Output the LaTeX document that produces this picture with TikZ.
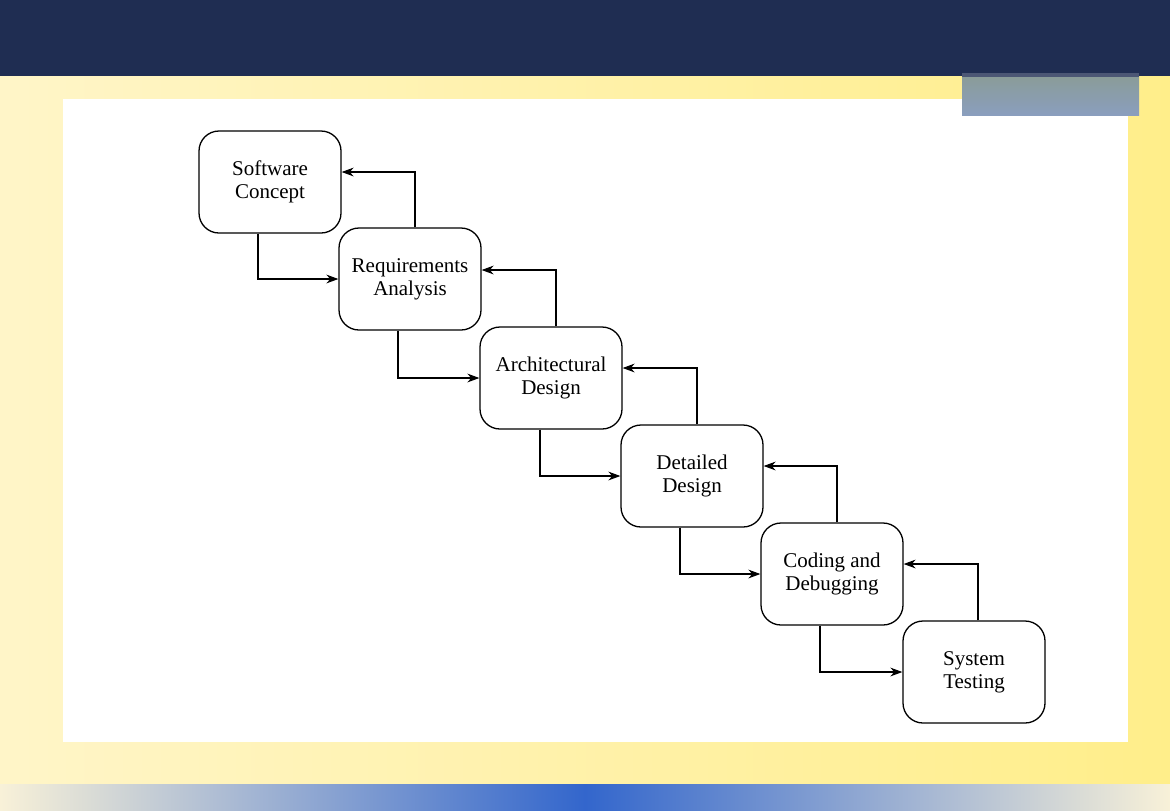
\documentclass[tikz,border=0pt]{standalone}
\usepackage{fontspec}
\setmainfont{Liberation Serif}
\usepackage{xcolor}
\usetikzlibrary{arrows.meta}

\definecolor{banner}{HTML}{1F2D52}
\definecolor{paleyellow}{HTML}{FFF5C8}
\definecolor{deepyellow}{HTML}{FFEE8A}
\definecolor{stripbeige}{HTML}{F8F1D8}
\definecolor{stripblue}{HTML}{3366CC}
\definecolor{tabtop}{HTML}{8A9C98}
\definecolor{tabbottom}{HTML}{8A9EBE}

\begin{document}
\begin{tikzpicture}[x=0.5pt,y=-0.5pt,>={Stealth[length=6pt,width=4.4pt]},
  stage/.style={draw,line width=0.65pt,rounded corners=10pt,minimum width=71pt,
    minimum height=51pt,inner sep=0pt,align=center,
    font=\fontsize{10.5}{11.5}\selectfont},
  flow/.style={->,line width=0.55pt}]
  \useasboundingbox (0,0) rectangle (1170,810);
  % slide background
  \shade[left color=paleyellow,right color=deepyellow] (0,76) rectangle (1170,784);
  \fill[banner] (0,0) rectangle (1170,76);
  \shade[left color=stripbeige,right color=stripbeige,middle color=stripblue] (0,784) rectangle (1170,810);
  \fill[white] (63,99) rectangle (1128,742);
  \shade[top color=tabtop,bottom color=tabbottom] (962,76) rectangle (1139,115);
  \fill[banner!80] (962,73) rectangle (1139,77);
  % stages
  \node[stage] (sc) at (270,182) {Software\\Concept};
  \node[stage] (ra) at (410,279) {Requirements\\Analysis};
  \node[stage] (ad) at (551,378) {Architectural\\Design};
  \node[stage] (dd) at (692,476) {Detailed\\Design};
  \node[stage] (cd) at (832,574) {Coding and\\Debugging};
  \node[stage] (st) at (974,672) {System\\Testing};
  % forward flow
  \draw[flow] ([xshift=-6pt]sc.south) |- (ra.west);
  \draw[flow] ([xshift=-6pt]ra.south) |- (ad.west);
  \draw[flow] ([xshift=-5.5pt]ad.south) |- (dd.west);
  \draw[flow] ([xshift=-6pt]dd.south) |- (cd.west);
  \draw[flow] ([xshift=-6pt]cd.south) |- (st.west);
  % feedback
  \draw[flow] ([xshift=2.5pt]ra.north) |- ([yshift=5pt]sc.east);
  \draw[flow] ([xshift=2.5pt]ad.north) |- ([yshift=4.5pt]ra.east);
  \draw[flow] ([xshift=2.5pt]dd.north) |- ([yshift=5pt]ad.east);
  \draw[flow] ([xshift=2.5pt]cd.north) |- ([yshift=5pt]dd.east);
  \draw[flow] ([xshift=2pt]st.north) |- ([yshift=5pt]cd.east);
\end{tikzpicture}
\end{document}
